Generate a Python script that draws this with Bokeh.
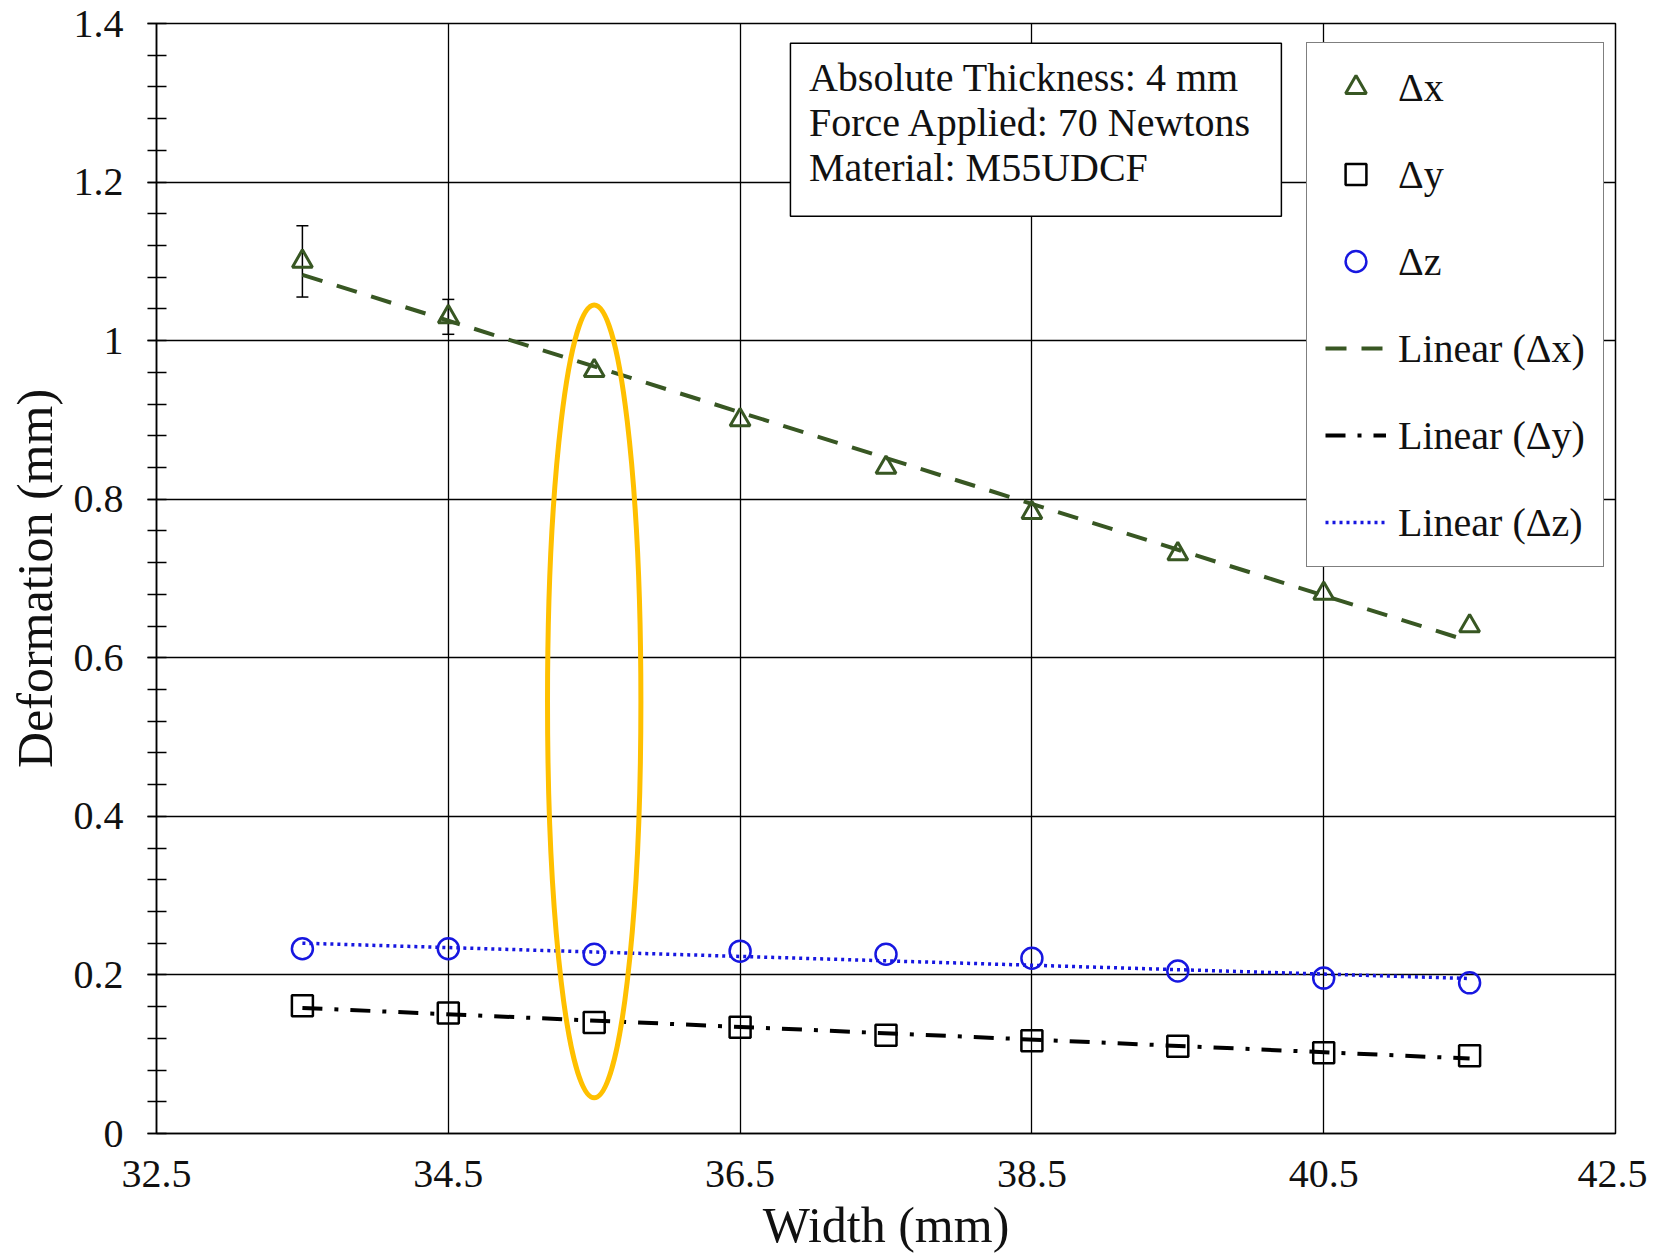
import numpy as np
from bokeh.plotting import figure
from bokeh.models import (ColumnDataSource, Whisker, TeeHead, FixedTicker, Legend, LegendItem,
                          BoxAnnotation, Label, Range1d)
from bokeh.embed import file_html
from bokeh.resources import INLINE

# ---------------- data ----------------
width_mm = [33.5, 34.5, 35.5, 36.5, 37.5, 38.5, 39.5, 40.5, 41.5]
dx = [1.100, 1.030, 0.962, 0.900, 0.840, 0.783, 0.731, 0.681, 0.640]
dy = [0.161, 0.152, 0.140, 0.134, 0.124, 0.117, 0.110, 0.102, 0.098]
dz = [0.233, 0.233, 0.226, 0.230, 0.226, 0.221, 0.205, 0.196, 0.190]
dx_err = [0.045, 0.022, 0.0, 0.0, 0.0, 0.0, 0.0, 0.0, 0.0]

y_ticks = [0, 0.2, 0.4, 0.6, 0.8, 1.0, 1.2, 1.4]
y_tick_labels = ["0", "0.2", "0.4", "0.6", "0.8", "1", "1.2", "1.4"]
x_ticks = [32.5, 34.5, 36.5, 38.5, 40.5, 42.5]
x_tick_labels = ["32.5", "34.5", "36.5", "38.5", "40.5", "42.5"]

info_lines = ["Absolute Thickness: 4 mm", "Force Applied: 70 Newtons", "Material: M55UDCF"]
highlight_x = 35.5
highlight_y = 0.545

FONT = "Liberation Serif"
GREEN = "#385723"
BLUE = "#1717E0"
BLACK = "#000000"

# ---------------- figure ----------------
p = figure(width=1647, height=1255, output_backend="svg", toolbar_location=None,
           x_range=Range1d(32.5, 42.5), y_range=Range1d(0, 1.4),
           min_border_left=156, min_border_right=32, min_border_top=23, min_border_bottom=122)
p.background_fill_color = "white"
p.border_fill_color = "white"
p.outline_line_color = BLACK
p.outline_line_width = 1.5

# axes
p.xaxis.ticker = FixedTicker(ticks=x_ticks)
p.xaxis.major_label_overrides = dict(zip(x_ticks, x_tick_labels))
minor_y = [round(v, 2) for v in np.arange(0, 1.4001, 0.04)]
p.yaxis.ticker = FixedTicker(ticks=y_ticks, minor_ticks=minor_y)
p.yaxis.major_label_overrides = dict(zip(y_ticks, y_tick_labels))

for ax in (p.xaxis[0], p.yaxis[0]):
    ax.axis_line_color = BLACK
    ax.axis_line_width = 1.5
    ax.major_label_text_font = FONT
    ax.major_label_text_font_size = "40px"
    ax.major_label_text_color = "#111111"
    ax.axis_label_text_font = FONT
    ax.axis_label_text_font_size = "50px"
    ax.axis_label_text_font_style = "normal"
    ax.axis_label_text_color = "#111111"
    ax.major_tick_line_color = BLACK
    ax.minor_tick_line_color = BLACK
    ax.major_tick_line_width = 1.5
    ax.minor_tick_line_width = 1.5

p.xaxis.axis_label = "Width (mm)"
p.yaxis.axis_label = "Deformation (mm)"
p.xaxis.major_tick_in = 0
p.xaxis.major_tick_out = 0
p.xaxis.minor_tick_line_color = None
p.xaxis.major_label_standoff = 27
p.xaxis.axis_label_standoff = 7
p.yaxis.major_tick_in = 0
p.yaxis.major_tick_out = 9
p.yaxis.minor_tick_in = 10
p.yaxis.minor_tick_out = 9
p.yaxis.major_label_standoff = 24
p.yaxis.axis_label_standoff = 8

p.xgrid.ticker = FixedTicker(ticks=x_ticks)
p.ygrid.ticker = FixedTicker(ticks=y_ticks)
p.grid.grid_line_color = BLACK
p.grid.grid_line_width = 1.3

# ---------------- linear fits ----------------
xs = np.array(width_mm)
fit_x = [xs.min(), xs.max()]
def lin(vals):
    m, b = np.polyfit(xs, np.array(vals), 1)
    return [m * fit_x[0] + b, m * fit_x[1] + b]

l_dx = p.line(fit_x, lin(dx), line_color=GREEN, line_width=4, line_dash="21 15")
l_dy = p.line(fit_x, lin(dy), line_color=BLACK, line_width=4, line_dash="20 12 4 12")
l_dz = p.line(fit_x, lin(dz), line_color=BLUE, line_width=3.5, line_dash="3 4")

# ---------------- error bars ----------------
err_idx = [i for i, e in enumerate(dx_err) if e > 0]
err_src = ColumnDataSource(dict(
    x=[width_mm[i] for i in err_idx],
    lo=[dx[i] - dx_err[i] for i in err_idx],
    hi=[dx[i] + dx_err[i] for i in err_idx],
))
wh = Whisker(source=err_src, base="x", upper="hi", lower="lo", line_color=BLACK, line_width=1.5,
             upper_head=TeeHead(size=12, line_color=BLACK, line_width=1.5),
             lower_head=TeeHead(size=12, line_color=BLACK, line_width=1.5))
p.add_layout(wh)

# ---------------- markers ----------------
s_dx = p.scatter(width_mm, dx, marker="triangle", size=20, fill_color=None,
                 line_color=GREEN, line_width=3)
s_dy = p.scatter(width_mm, dy, marker="square", size=21, fill_color=None,
                 line_color=BLACK, line_width=2.5)
s_dz = p.scatter(width_mm, dz, marker="circle", size=21, fill_color=None,
                 line_color=BLUE, line_width=2.5)

# ---------------- highlight ellipse ----------------
p.ellipse(x=[highlight_x], y=[highlight_y], width=0.64, height=1.0, fill_color=None,
          line_color="#FFC000", line_width=5)

# ---------------- info box ----------------
box = BoxAnnotation(left=36.845, right=40.21, top=1.375, bottom=1.157,
                    fill_color="white", fill_alpha=1.0, line_color=BLACK, line_width=1.5,
                    line_alpha=1.0)
p.add_layout(box)
for i, t in enumerate(info_lines):
    p.add_layout(Label(x=36.972, y=1.332 - i * 0.0565, text=t, text_font=FONT,
                       text_font_size="40px", text_color="#111111",
                       text_baseline="alphabetic", text_align="left"))

# ---------------- legend ----------------
legend = Legend(items=[
    LegendItem(label="Δx", renderers=[s_dx]),
    LegendItem(label="Δy", renderers=[s_dy]),
    LegendItem(label="Δz", renderers=[s_dz]),
    LegendItem(label="Linear (Δx)", renderers=[l_dx]),
    LegendItem(label="Linear (Δy)", renderers=[l_dy]),
    LegendItem(label="Linear (Δz)", renderers=[l_dz]),
], location=(1150, 566))
legend.label_text_font = FONT
legend.label_text_font_size = "40px"
legend.label_text_color = "#111111"
legend.glyph_width = 61
legend.glyph_height = 52
legend.label_height = 52
legend.label_standoff = 12
legend.spacing = 35
legend.padding = 18
legend.margin = 0
legend.border_line_color = BLACK
legend.border_line_width = 1.5
legend.background_fill_color = "white"
legend.background_fill_alpha = 1.0
p.add_layout(legend, "center")

open("out.html", "w").write(file_html(p, INLINE))
